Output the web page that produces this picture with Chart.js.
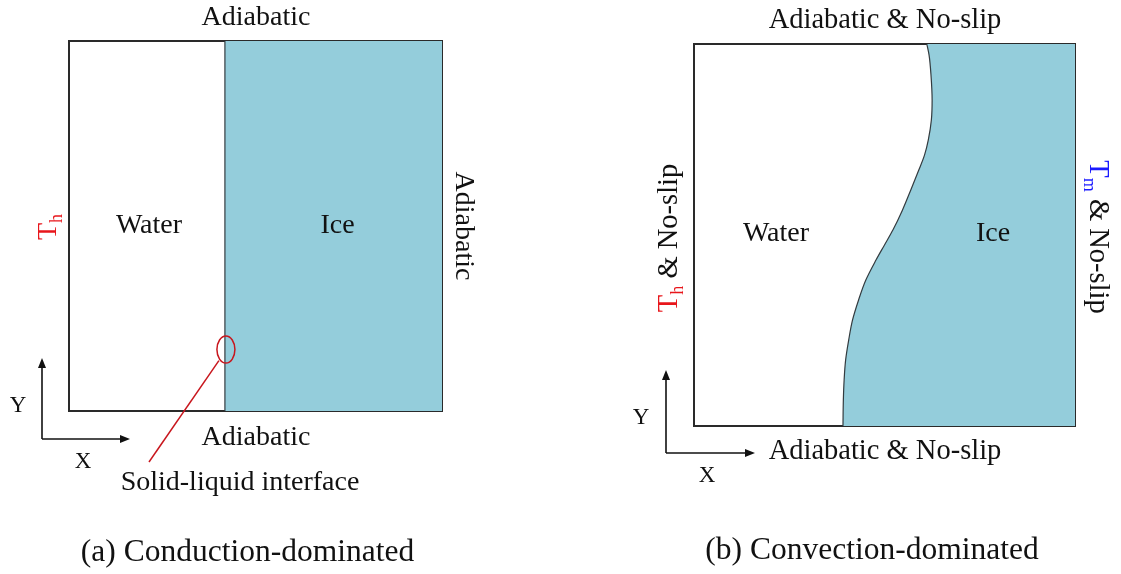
<!DOCTYPE html>
<html>
<head>
<meta charset="utf-8">
<title>Melting of ice in a square cavity</title>
<script src="https://cdn.jsdelivr.net/npm/chart.js@4.4.1/dist/chart.umd.min.js"></script>
<style>
  html, body { margin: 0; padding: 0; background: #ffffff; overflow: hidden; }
  #wrap { position: relative; width: 1121px; height: 574px; }
  #wrap canvas { position: absolute; left: 0; top: 0; }
</style>
</head>
<body>
<div id="wrap">
  <canvas id="cond" width="1121" height="574"></canvas>
  <canvas id="conv" width="1121" height="574"></canvas>
</div>
<script>
// Dimensionless cavity coordinates: X across (0..1), Y up (0..1).

// (a) conduction regime: the melting front is a straight vertical line
const condFrontY = [0, 1];
const condFrontX = [0.418, 0.418];

// (b) convection regime: curved melting front, X of the front at each height Y
const convFrontY = [0, 0.068, 0.120, 0.173, 0.225, 0.277, 0.330, 0.382, 0.435, 0.474, 0.513,
                    0.565, 0.618, 0.670, 0.709, 0.749, 0.801, 0.853, 0.919, 0.971, 1];
const convFrontX = [0.391, 0.392, 0.394, 0.398, 0.406, 0.416, 0.432, 0.451, 0.478, 0.500, 0.522,
                    0.547, 0.569, 0.590, 0.605, 0.615, 0.623, 0.625, 0.622, 0.617, 0.611];

// Region names and captions
const phaseNames = ['Water', 'Ice'];
const panelCaptions = ['(a) Conduction-dominated', '(b) Convection-dominated'];
const condWallLabel = 'Adiabatic';
const convWallLabel = 'Adiabatic & No-slip';
const interfaceLabel = 'Solid-liquid interface';

const SERIF = '"Liberation Serif", "Times New Roman", serif';
const ICE = '#94cddb';
const RED = '#e8161b';
const DARKRED = '#c8161d';
const BLUE = '#1a1aff';

// ---- drawing helpers -------------------------------------------------------
// runs: [{t, color, sub}] drawn left to right, centred on (x, baseline y), rotated by rot
function richText(ctx, runs, x, y, rot, size) {
  ctx.save();
  ctx.translate(x, y);
  ctx.rotate(rot);
  const subSize = size * 0.64;
  let total = 0;
  const widths = runs.map(r => {
    ctx.font = (r.sub ? subSize : size) + 'px ' + SERIF;
    const w = ctx.measureText(r.t).width;
    total += w;
    return w;
  });
  let cx = -total / 2;
  ctx.textAlign = 'left';
  ctx.textBaseline = 'alphabetic';
  runs.forEach((r, i) => {
    ctx.font = (r.sub ? subSize : size) + 'px ' + SERIF;
    ctx.fillStyle = r.color || '#111';
    ctx.fillText(r.t, cx, r.sub ? size * 0.2 : 0);
    cx += widths[i];
  });
  ctx.restore();
}
function plain(ctx, t, x, y, size, rot) {
  richText(ctx, [{ t }], x, y, rot || 0, size);
}
function arrow(ctx, x1, y1, x2, y2) {
  const a = Math.atan2(y2 - y1, x2 - x1);
  const L = 10, W = 4;
  ctx.beginPath();
  ctx.moveTo(x1, y1);
  ctx.lineTo(x2 - Math.cos(a) * (L - 1), y2 - Math.sin(a) * (L - 1));
  ctx.stroke();
  ctx.beginPath();
  ctx.moveTo(x2, y2);
  ctx.lineTo(x2 - L * Math.cos(a) + W * Math.sin(a), y2 - L * Math.sin(a) - W * Math.cos(a));
  ctx.lineTo(x2 - L * Math.cos(a) - W * Math.sin(a), y2 - L * Math.sin(a) + W * Math.cos(a));
  ctx.closePath();
  ctx.fill();
}
function axesGlyph(ctx, ox, oy, up, right) {
  ctx.save();
  ctx.strokeStyle = '#111';
  ctx.fillStyle = '#111';
  ctx.lineWidth = 1.6;
  arrow(ctx, ox, oy, ox, oy - up);
  arrow(ctx, ox, oy, ox + right, oy);
  ctx.restore();
}

// Frame: four hidden-tick axes whose borders outline the cavity
function frameScales() {
  const edge = (axis, position) => ({
    type: 'linear', axis, position, min: 0, max: 1, z: 1,
    grid: { display: false, drawTicks: false },
    ticks: { display: false },
    border: { display: true, color: '#2a2a2a', width: 2 }
  });
  return { x: edge('x', 'bottom'), y: edge('y', 'left'), xTop: edge('x', 'top'), yRight: edge('y', 'right') };
}

// Melting front, with the ice filled from the front to the right wall (X = 1)
function frontDataset(xs, ys) {
  return {
    data: ys.map((y, i) => ({ x: xs[i], y })),
    xAxisID: 'x',
    yAxisID: 'y',
    fill: { value: 1 },
    backgroundColor: ICE,
    borderColor: '#333b3f',
    borderWidth: 1.2,
    cubicInterpolationMode: 'monotone',
    pointRadius: 0,
    pointHoverRadius: 0
  };
}

function baseOptions(padding) {
  return {
    responsive: false,
    animation: false,
    devicePixelRatio: 1,
    indexAxis: 'y',
    layout: { padding },
    events: [],
    plugins: { legend: { display: false }, tooltip: { enabled: false } },
    scales: frameScales()
  };
}

// ---- (a) conduction-dominated ----------------------------------------------
const condLabels = {
  id: 'condLabels',
  afterDraw(chart) {
    const ctx = chart.ctx;
    const xs = chart.scales.x, ys = chart.scales.y;
    const a = chart.chartArea;
    const cxMid = (a.left + a.right) / 2;

    plain(ctx, condWallLabel, cxMid + 0.5, a.top - 16, 28);
    plain(ctx, condWallLabel, cxMid + 0.5, a.bottom + 34, 28);
    plain(ctx, condWallLabel, a.right + 14, (a.top + a.bottom) / 2, 28, Math.PI / 2);
    richText(ctx, [{ t: 'T', color: RED }, { t: 'h', color: RED, sub: true }], a.left - 13, 227, -Math.PI / 2, 28);

    plain(ctx, phaseNames[0], 149, 233, 28);
    plain(ctx, phaseNames[1], 337.5, 233, 28);

    // marker on the interface and its leader line
    const ex = xs.getPixelForValue(condFrontX[0]);
    const ey = ys.getPixelForValue(0.166);
    ctx.save();
    ctx.strokeStyle = DARKRED;
    ctx.lineWidth = 1.5;
    ctx.beginPath();
    ctx.ellipse(ex + 1, ey, 9, 13.5, 0, 0, Math.PI * 2);
    ctx.stroke();
    ctx.beginPath();
    ctx.moveTo(ex - 6, ey + 11);
    ctx.lineTo(149, 462);
    ctx.stroke();
    ctx.restore();
    plain(ctx, interfaceLabel, 240, 490, 28);

    axesGlyph(ctx, 42, 439, 81, 88);
    plain(ctx, 'Y', 18, 412, 23);
    plain(ctx, 'X', 83, 468, 23);

    plain(ctx, panelCaptions[0], 247.5, 561, 31.5);
  }
};

new Chart(document.getElementById('cond'), {
  type: 'line',
  data: { datasets: [frontDataset(condFrontX, condFrontY)] },
  options: baseOptions({ left: 69, top: 41, right: 1121 - 442, bottom: 574 - 411 }),
  plugins: [condLabels]
});

// ---- (b) convection-dominated ----------------------------------------------
const convLabels = {
  id: 'convLabels',
  afterDraw(chart) {
    const ctx = chart.ctx;
    const a = chart.chartArea;

    plain(ctx, convWallLabel, 885, a.top - 16, 28.5);
    plain(ctx, convWallLabel, 885, a.bottom + 33, 28.5);
    richText(ctx, [{ t: 'T', color: RED }, { t: 'h', color: RED, sub: true }, { t: ' & No-slip' }],
      677, 238, -Math.PI / 2, 28.5);
    richText(ctx, [{ t: 'T', color: BLUE }, { t: 'm', color: BLUE, sub: true }, { t: ' & No-slip' }],
      1090, 237, Math.PI / 2, 28.5);

    plain(ctx, phaseNames[0], 776, 241, 28);
    plain(ctx, phaseNames[1], 993, 241, 28);

    axesGlyph(ctx, 666, 453, 83, 89);
    plain(ctx, 'Y', 641, 424, 23);
    plain(ctx, 'X', 707, 482, 23);

    plain(ctx, panelCaptions[1], 872, 559, 31.5);
  }
};

new Chart(document.getElementById('conv'), {
  type: 'line',
  data: { datasets: [frontDataset(convFrontX, convFrontY)] },
  options: baseOptions({ left: 694, top: 44, right: 1121 - 1075, bottom: 574 - 426 }),
  plugins: [convLabels]
});
</script>
</body>
</html>
